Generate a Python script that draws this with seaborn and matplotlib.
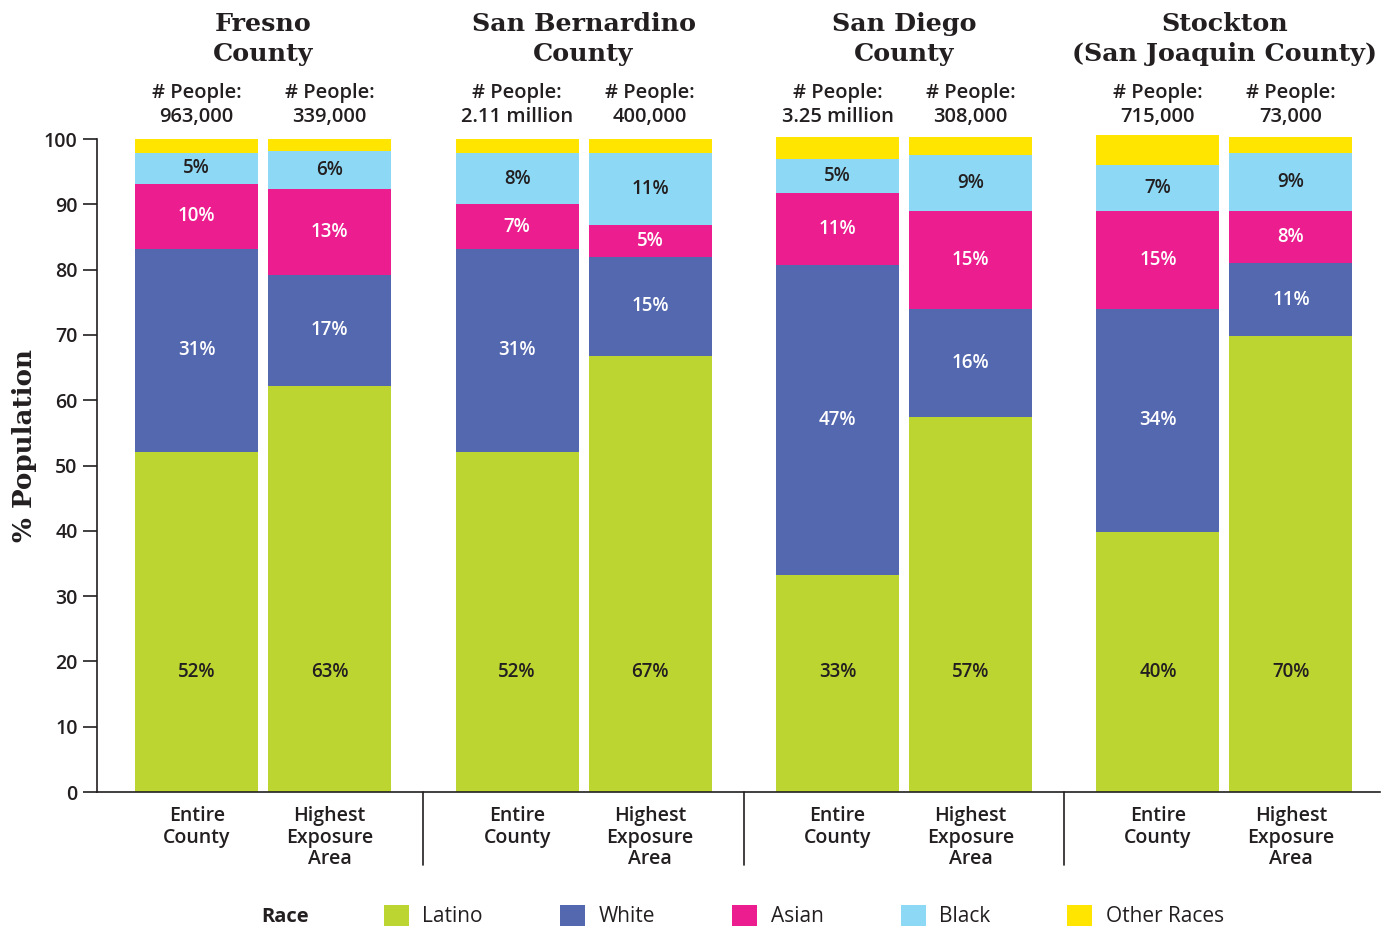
import pandas as pd
import seaborn as sns
import matplotlib.pyplot as plt
import matplotlib.transforms as mtransforms
from matplotlib.patches import Patch

# data
counties = ["Fresno\nCounty", "San Bernardino\nCounty", "San Diego\nCounty",
            "Stockton\n(San Joaquin County)"]
areas = ["Entire\nCounty", "Highest\nExposure\nArea"]
people = ["963,000", "339,000", "2.11 million", "400,000",
          "3.25 million", "308,000", "715,000", "73,000"]

races = ["Latino", "White", "Asian", "Black", "Other Races"]
latino = [52.1, 62.2, 52.1, 66.8, 33.2, 57.4, 39.8, 69.8]
white = [31.1, 17.0, 31.1, 15.1, 47.5, 16.6, 34.2, 11.2]
asian = [9.9, 13.1, 6.8, 4.9, 11.0, 15.0, 15.0, 8.0]
black = [4.8, 5.9, 7.9, 11.1, 5.2, 8.5, 7.0, 8.9]
other = [2.1, 1.8, 2.1, 2.1, 3.4, 2.8, 4.6, 2.4]

latino_lbl = ["52%", "63%", "52%", "67%", "33%", "57%", "40%", "70%"]
white_lbl = ["31%", "17%", "31%", "15%", "47%", "16%", "34%", "11%"]
asian_lbl = ["10%", "13%", "7%", "5%", "11%", "15%", "15%", "8%"]
black_lbl = ["5%", "6%", "8%", "11%", "5%", "9%", "7%", "9%"]

colors = ["#BCD531", "#5468AF", "#EC1E8F", "#8DD8F5", "#FFE500"]
dark = "#231F20"

sans = ["Open Sans", "DejaVu Sans"]
serif = ["DejaVu Serif"]
semi = "semibold"

sns.set_style("white")
plt.rcParams["font.family"] = sans

# bar positions: two bars per county, wider gap between counties
pitch = 2.41
pos = []
for g in range(len(counties)):
    pos += [g * pitch, g * pitch + 1]

df = pd.DataFrame({"pos": pos, "Latino": latino, "White": white,
                   "Asian": asian, "Black": black, "Other Races": other})
cum = df[races].cumsum(axis=1)

fig = plt.figure(figsize=(13.92, 9.30), dpi=100)
ax = fig.add_axes([97 / 1392, 1 - 792 / 930, 1283 / 1392, 653 / 930])

# draw the stack from the top layer down so each layer covers the one above
for race, col in reversed(list(zip(races, colors))):
    sns.barplot(x=df["pos"], y=cum[race], color=col, native_scale=True,
                width=0.925, saturation=1, linewidth=0, ax=ax, clip_on=False)

ax.set_xlim(-0.75, 8.9)
ax.set_ylim(0, 100)
ax.set_yticks(range(0, 101, 10))
ax.set_xticks(pos)
ax.set_xticklabels(areas * len(counties), fontsize=14, color=dark,
                   linespacing=1.12, va="top", fontweight=semi)
ax.tick_params(axis="x", length=0, pad=10)
ax.tick_params(axis="y", length=10, width=1.2, color=dark, labelsize=14,
               labelcolor=dark, pad=4, left=True)
for t in ax.get_yticklabels():
    t.set_fontweight(semi)
sns.despine(ax=ax)
for s in ["left", "bottom"]:
    ax.spines[s].set_color(dark)
    ax.spines[s].set_linewidth(1.2)
ax.set_xlabel("")
ax.set_ylabel("% Population", family=serif, fontweight="bold", fontsize=18.8,
              color=dark)
ax.yaxis.set_label_coords(-0.047, 0.531)

# segment labels
lab = dict(ha="center", va="center", fontsize=13.5, fontweight=semi)
for i, x in enumerate(pos):
    ax.text(x, 18.4, latino_lbl[i], color=dark, **lab)
    ax.text(x, (cum["Latino"][i] + cum["White"][i]) / 2, white_lbl[i],
            color="white", **lab)
    ax.text(x, (cum["White"][i] + cum["Asian"][i]) / 2, asian_lbl[i],
            color="white", **lab)
    ax.text(x, (cum["Asian"][i] + cum["Black"][i]) / 2, black_lbl[i],
            color=dark, **lab)
    ax.text(x, 105.2, "# People:\n" + people[i], ha="center", va="center",
            fontsize=14.5, color=dark, linespacing=1.3, fontweight=semi,
            clip_on=False)

# county titles and separators
trans = mtransforms.blended_transform_factory(ax.transData, ax.transAxes)
for g, name in enumerate(counties):
    cx = g * pitch + 0.5
    ax.text(cx, 115.3, name, ha="center", va="center", family=serif,
            fontweight="bold", fontsize=18.3, color=dark, linespacing=1.3,
            clip_on=False)
    if g > 0:
        sx = g * pitch - (pitch - 1) / 2
        ax.plot([sx, sx], [0, -73 / 653], color=dark, lw=1.2,
                transform=trans, clip_on=False)

# legend
handles = [Patch(facecolor=c, edgecolor="none", label=r)
           for r, c in zip(races, colors)]
fig.text(285 / 1392, 1 - 917 / 930, "Race", ha="center", va="center",
         fontsize=14.5, fontweight="bold", color=dark)
fig.legend(handles=handles, loc="center left",
           bbox_to_anchor=(365 / 1392, 1 - 916 / 930), ncol=5, frameon=False,
           fontsize=15, handlelength=1.2, handleheight=1.2,
           handletextpad=0.65, columnspacing=3.7, labelcolor=dark)

fig.savefig("out.png", dpi=100)
